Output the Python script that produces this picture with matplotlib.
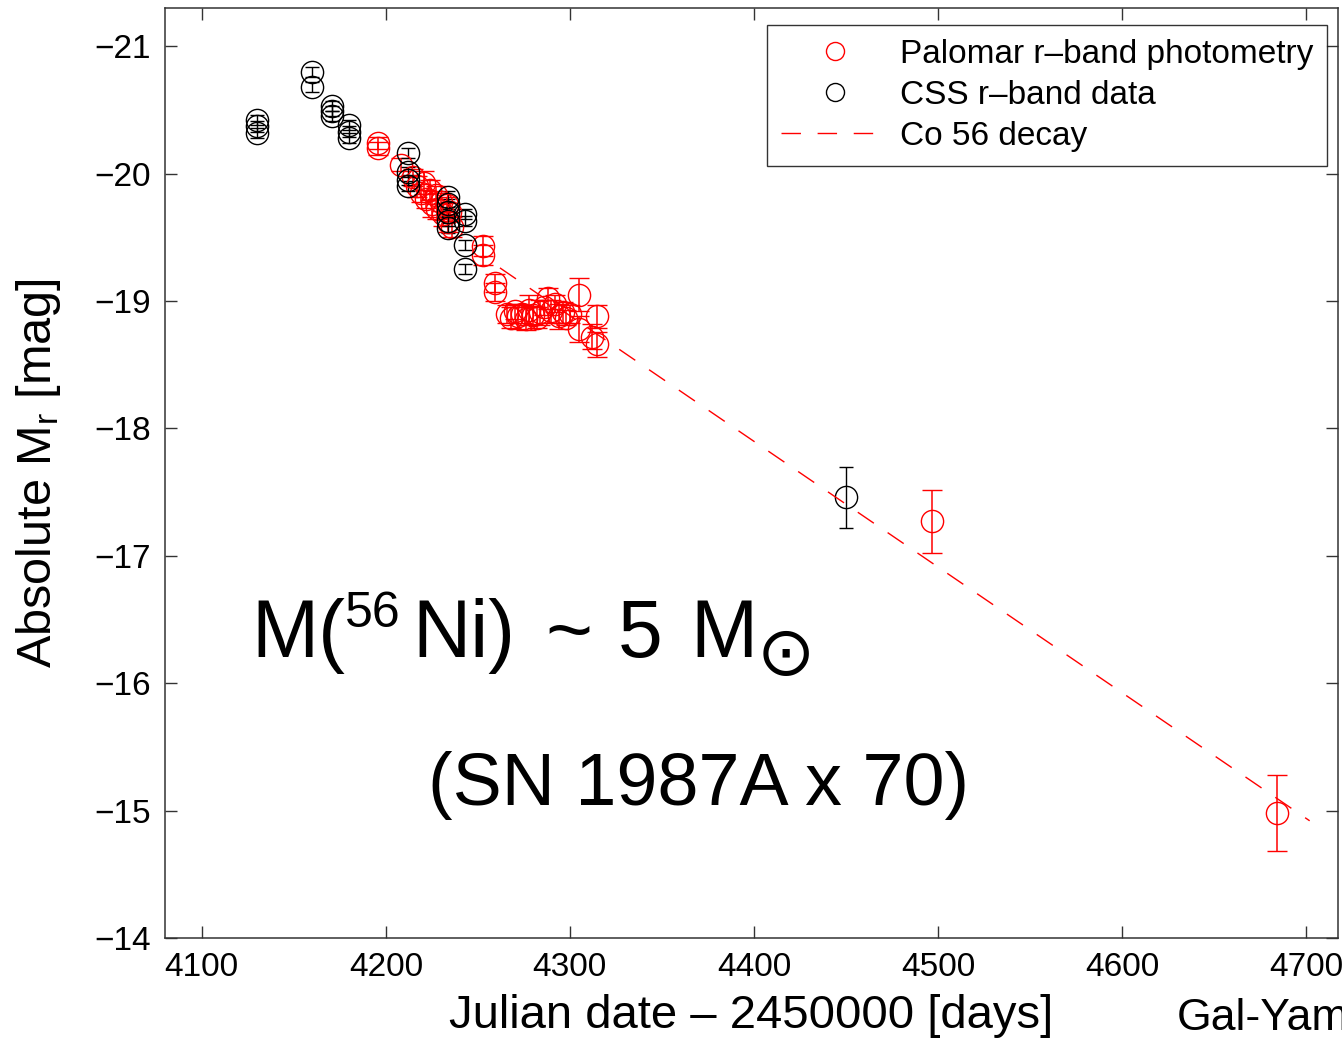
import numpy as np
import matplotlib
matplotlib.use('Agg')
import matplotlib.pyplot as plt
from matplotlib import font_manager
from matplotlib.lines import Line2D

plt.rcParams['font.family'] = ['Liberation Sans', 'DejaVu Sans']
plt.rcParams['mathtext.fontset'] = 'custom'
plt.rcParams['mathtext.rm'] = 'Liberation Sans'
plt.rcParams['mathtext.it'] = 'Liberation Sans:italic'

# Palomar r-band photometry (JD - 2450000, abs mag, error)
pal_x = [4196, 4196, 4208,
         4215, 4217, 4219, 4221, 4222, 4224, 4225, 4227, 4228, 4230, 4231, 4233, 4234, 4235, 4236,
         4253, 4253, 4259.5, 4259.5,
         4266, 4268, 4270, 4272, 4274, 4276, 4278, 4280, 4282, 4284, 4286, 4288, 4290, 4292,
         4294, 4296, 4298, 4300,
         4305, 4305, 4312, 4314.5, 4314.5,
         4497, 4684]
pal_y = [-20.24, -20.20, -20.07,
         -19.97, -19.90, -19.85, -19.93, -19.80, -19.87, -19.76, -19.83, -19.72, -19.78, -19.68,
         -19.75, -19.62, -19.70, -19.58,
         -19.43, -19.36, -19.14, -19.07,
         -18.90, -18.87, -18.92, -18.88, -18.90, -18.86, -18.93, -18.89, -18.87, -18.91, -18.95,
         -19.02, -18.92, -18.98, -18.88, -18.91, -18.87, -18.90,
         -19.05, -18.78, -18.72, -18.88, -18.66,
         -17.27, -14.98]
pal_err = [0.05, 0.05, 0.05,
           0.07, 0.08, 0.07, 0.09, 0.07, 0.08, 0.10, 0.07, 0.08, 0.07, 0.09, 0.07, 0.08, 0.07, 0.08,
           0.08, 0.08, 0.07, 0.07,
           0.07, 0.08, 0.06, 0.10, 0.07, 0.09, 0.12, 0.07, 0.08, 0.10, 0.06, 0.08, 0.09, 0.07,
           0.10, 0.08, 0.06, 0.07,
           0.13, 0.10, 0.10, 0.09, 0.10,
           0.25, 0.30]

# CSS r-band data
css_x = [4130, 4130, 4130, 4160, 4160, 4171, 4171, 4171, 4180, 4180, 4180,
         4212, 4212, 4212, 4212, 4234, 4234, 4234, 4234, 4234,
         4243, 4243, 4243, 4243, 4450]
css_y = [-20.42, -20.37, -20.32, -20.80, -20.68, -20.53, -20.49, -20.45, -20.38, -20.33, -20.28,
         -20.16, -20.01, -19.95, -19.90, -19.82, -19.76, -19.70, -19.63, -19.57,
         -19.68, -19.63, -19.44, -19.25, -17.46]
css_err = [0.04] * 24 + [0.24]

# Co 56 decay line
co_x = [4262, 4702]
co_y = [-19.26, -14.92]

legend_labels = ['Palomar r\u2013band photometry', 'CSS r\u2013band data', 'Co 56 decay']

W, H = 1342, 1040
fig = plt.figure(figsize=(W / 100, H / 100), dpi=100)
ax = fig.add_axes([165 / W, 1 - 938 / H, (1338 - 165) / W, (938 - 8) / H])

ax.errorbar(pal_x, pal_y, yerr=pal_err, fmt='o', ms=16, mfc='none', mec='red', mew=1.0,
            ecolor='red', elinewidth=1.1, capsize=7, capthick=1.1)
ax.errorbar(css_x, css_y, yerr=css_err, fmt='o', ms=16, mfc='none', mec='black', mew=1.0,
            ecolor='black', elinewidth=1.0, capsize=5, capthick=1.0)
ax.plot(co_x, co_y, color='red', lw=1.0, linestyle=(0, (14, 12)), zorder=5)

ax.set_xlim(4080, 4717.4)
ax.set_ylim(-14, -21.3)
ax.set_xticks(np.arange(4100, 4701, 100))
ax.set_yticks(np.arange(-21, -13, 1))
ax.tick_params(direction='in', top=True, right=True, length=8.5, width=1.0,
               labelsize=24, colors='#333333', labelcolor='black', pad=10)
for s in ax.spines.values():
    s.set_color('#333333')
    s.set_linewidth(1.1)

ax.set_xlabel('Julian date \u2013 2450000 [days]', fontsize=34, labelpad=8)
ax.set_ylabel('Absolute M$_\\mathrm{r}$ [mag]', fontsize=35, labelpad=23)

handles = [Line2D([], [], ls='none', marker='o', ms=13, mfc='none', mec='red', mew=1.0),
           Line2D([], [], ls='none', marker='o', ms=13, mfc='none', mec='black', mew=1.0),
           Line2D([], [], color='red', lw=1.0, linestyle=(0, (14, 12)))]
leg = ax.legend(handles, legend_labels, loc='upper right', bbox_to_anchor=(0.9906, 0.9817),
                fontsize=24, frameon=True, fancybox=False, edgecolor='black', numpoints=1,
                handlelength=3.2, handletextpad=0.35, labelspacing=0.3, borderpad=0.42,
                borderaxespad=0)
leg.get_frame().set_linewidth(1.0)

# big annotation, a narrow face if one is installed
names = {f.name for f in font_manager.fontManager.ttflist}
if 'Liberation Sans Narrow' in names:
    big_font, big_size, sup_size = 'Liberation Sans Narrow', 69, 40
else:
    big_font, big_size, sup_size = 'Liberation Sans', 58, 36
base = 1 - 657 / H
fig.text(251 / W, base, 'M(', family=big_font, fontsize=big_size, va='baseline')
fig.text(345 / W, 1 - 627 / H, '56', family=big_font, fontsize=sup_size, va='baseline')
fig.text(412 / W, base, 'Ni)', family=big_font, fontsize=big_size, va='baseline')
fig.text(545 / W, base, '~', family=big_font, fontsize=big_size, va='baseline')
fig.text(618 / W, base, '5', family=big_font, fontsize=big_size, va='baseline')
fig.text(690 / W, base, 'M', family=big_font, fontsize=big_size, va='baseline')
fig.text(757 / W, 1 - 656 / H, '\u2299', family='DejaVu Sans', fontsize=50, va='center')

fig.text(428 / W, 1 - 805 / H, '(SN 1987A x 70)', fontsize=53, ha='left', va='baseline')
fig.text(1177 / W, 1 - 1030 / H, 'Gal-Yam', fontsize=32, ha='left', va='baseline')

fig.savefig('out.png', dpi=100)
